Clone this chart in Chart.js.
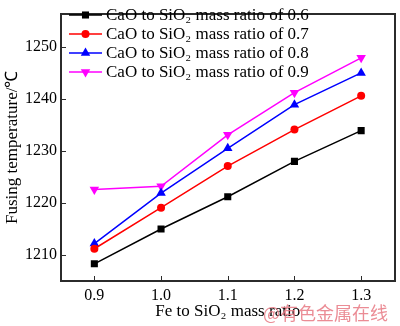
<!DOCTYPE html>
<html>
<head>
<meta charset="utf-8">
<script src="https://cdn.jsdelivr.net/npm/chart.js@4/dist/chart.umd.min.js"></script>
<style>
  html, body { margin: 0; padding: 0; background: #fff; }
  #wrap { width: 400px; height: 326px; }
</style>
</head>
<body>
<div id="wrap"><canvas id="c" width="400" height="326"></canvas></div>
<script>
// Fe to SiO2 mass ratio (x) and fusing temperature (°C) for each CaO/SiO2 ratio
const feRatio = [0.9, 1.0, 1.1, 1.2, 1.3];
const temp06 = [1208.3, 1215.0, 1221.2, 1228.0, 1233.9];
const temp07 = [1211.2, 1219.1, 1227.1, 1234.1, 1240.6];
const temp08 = [1212.2, 1221.9, 1230.5, 1238.9, 1245.0];
const temp09 = [1222.6, 1223.2, 1233.1, 1241.2, 1247.9];
const seriesNames = [
  'CaO to SiO\u2082 mass ratio of 0.6',
  'CaO to SiO\u2082 mass ratio of 0.7',
  'CaO to SiO\u2082 mass ratio of 0.8',
  'CaO to SiO\u2082 mass ratio of 0.9'
];
const xTicks = [0.9, 1.0, 1.1, 1.2, 1.3];
const yTicks = [1210, 1220, 1230, 1240, 1250];

const FONT = '"Liberation Serif", "Times New Roman", serif';
const styles = [
  { color: '#000000', point: 'rect', radius: 5, rotation: 0 },
  { color: '#ff0000', point: 'circle', radius: 4, rotation: 0 },
  { color: '#0000ff', point: 'triangle', radius: 5.5, rotation: 0 },
  { color: '#ff00ff', point: 'triangle', radius: 5.5, rotation: 180 }
];
const allSeries = [temp06, temp07, temp08, temp09];

const datasets = allSeries.map((vals, i) => ({
  label: seriesNames[i],
  data: feRatio.map((x, j) => ({ x: x, y: vals[j] })),
  borderColor: styles[i].color,
  backgroundColor: styles[i].color,
  borderWidth: 1.5,
  pointStyle: styles[i].point,
  pointRadius: styles[i].radius,
  pointRotation: styles[i].rotation,
  pointBorderWidth: 0,
  tension: 0
}));

function drawMarker(ctx, st, x, y) {
  ctx.save();
  ctx.fillStyle = st.color;
  ctx.beginPath();
  const r = st.radius;
  if (st.point === 'rect') {
    const s = r * Math.SQRT1_2;
    ctx.rect(x - s, y - s, 2 * s, 2 * s);
  } else if (st.point === 'circle') {
    ctx.arc(x, y, r, 0, Math.PI * 2);
  } else {
    const dir = st.rotation === 180 ? 1 : -1;
    const a = Math.PI / 6;
    ctx.moveTo(x, y + dir * r);
    ctx.lineTo(x - r * Math.cos(a), y - dir * r * Math.sin(a));
    ctx.lineTo(x + r * Math.cos(a), y - dir * r * Math.sin(a));
    ctx.closePath();
  }
  ctx.fill();
  ctx.restore();
}

// plot frame drawn as filled strips, inward ticks, legend and watermark
const decor = {
  id: 'decor',
  afterDraw(chart) {
    const ctx = chart.ctx;
    const a = chart.chartArea;
    const xs = chart.scales.x, ys = chart.scales.y;
    const L = Math.round(a.left), R = Math.round(a.right);
    const T = Math.round(a.top), B = Math.round(a.bottom);
    ctx.save();
    ctx.fillStyle = '#2b2b2b';
    ctx.fillRect(L - 1, T - 1, R - L + 2, 2);
    ctx.fillRect(L - 1, B - 1, R - L + 2, 2);
    ctx.fillRect(L - 1, T - 1, 2, B - T + 2);
    ctx.fillRect(R - 1, T - 1, 2, B - T + 2);
    xTicks.forEach(v => {
      const px = Math.round(xs.getPixelForValue(v));
      ctx.fillRect(px, B - 5, 1, 5);
    });
    yTicks.forEach(v => {
      const py = Math.round(ys.getPixelForValue(v));
      ctx.fillRect(L, py, 5, 1);
    });

    // legend
    ctx.font = '17px ' + FONT;
    ctx.textBaseline = 'middle';
    ctx.textAlign = 'left';
    styles.forEach((st, i) => {
      const y = 15 + i * 19;
      ctx.strokeStyle = st.color;
      ctx.lineWidth = 1.5;
      ctx.beginPath();
      ctx.moveTo(69, y); ctx.lineTo(102, y);
      ctx.stroke();
      drawMarker(ctx, st, 85.5, y);
      ctx.fillStyle = '#000';
      ctx.fillText(seriesNames[i], 106, y + 1);
    });

    // watermark
    ctx.font = '18px "Noto Sans CJK SC", sans-serif';
    ctx.fillStyle = 'rgba(232,120,130,0.85)';
    ctx.textAlign = 'left';
    ctx.textBaseline = 'alphabetic';
    ctx.fillText('@有色金属在线', 263, 320);
    ctx.restore();
  }
};

new Chart(document.getElementById('c'), {
  type: 'line',
  data: { datasets: datasets },
  options: {
    responsive: false,
    animation: false,
    layout: { padding: { top: 2, right: 3, left: 0, bottom: 0 } },
    plugins: { legend: { display: false }, tooltip: { enabled: false } },
    scales: {
      x: {
        type: 'linear',
        min: 0.85, max: 1.35,
        afterBuildTicks(s) { s.ticks = xTicks.map(v => ({ value: v })); },
        afterFit(s) { s.height = 45; },
        grid: { display: false, drawTicks: false },
        border: { display: false },
        ticks: {
          font: { family: FONT, size: 16 }, color: '#000', padding: 5,
          maxRotation: 0,
          callback: v => Number(v).toFixed(1)
        },
        title: {
          display: true, text: 'Fe to SiO\u2082 mass ratio',
          font: { family: FONT, size: 17 }, color: '#000',
          padding: { top: 0, bottom: 4 }
        }
      },
      y: {
        type: 'linear',
        min: 1205, max: 1256.4,
        afterBuildTicks(s) { s.ticks = yTicks.map(v => ({ value: v })); },
        afterFit(s) { s.width = 61; },
        grid: { display: false, drawTicks: false },
        border: { display: false },
        ticks: {
          font: { family: FONT, size: 16 }, color: '#000', padding: 4,
          callback: v => String(v)
        },
        title: {
          display: true, text: 'Fusing temperature/\u2103',
          font: { family: FONT, size: 17 }, color: '#000',
          padding: { top: 2, bottom: 0 }
        }
      }
    }
  },
  plugins: [decor]
});
</script>
</body>
</html>
